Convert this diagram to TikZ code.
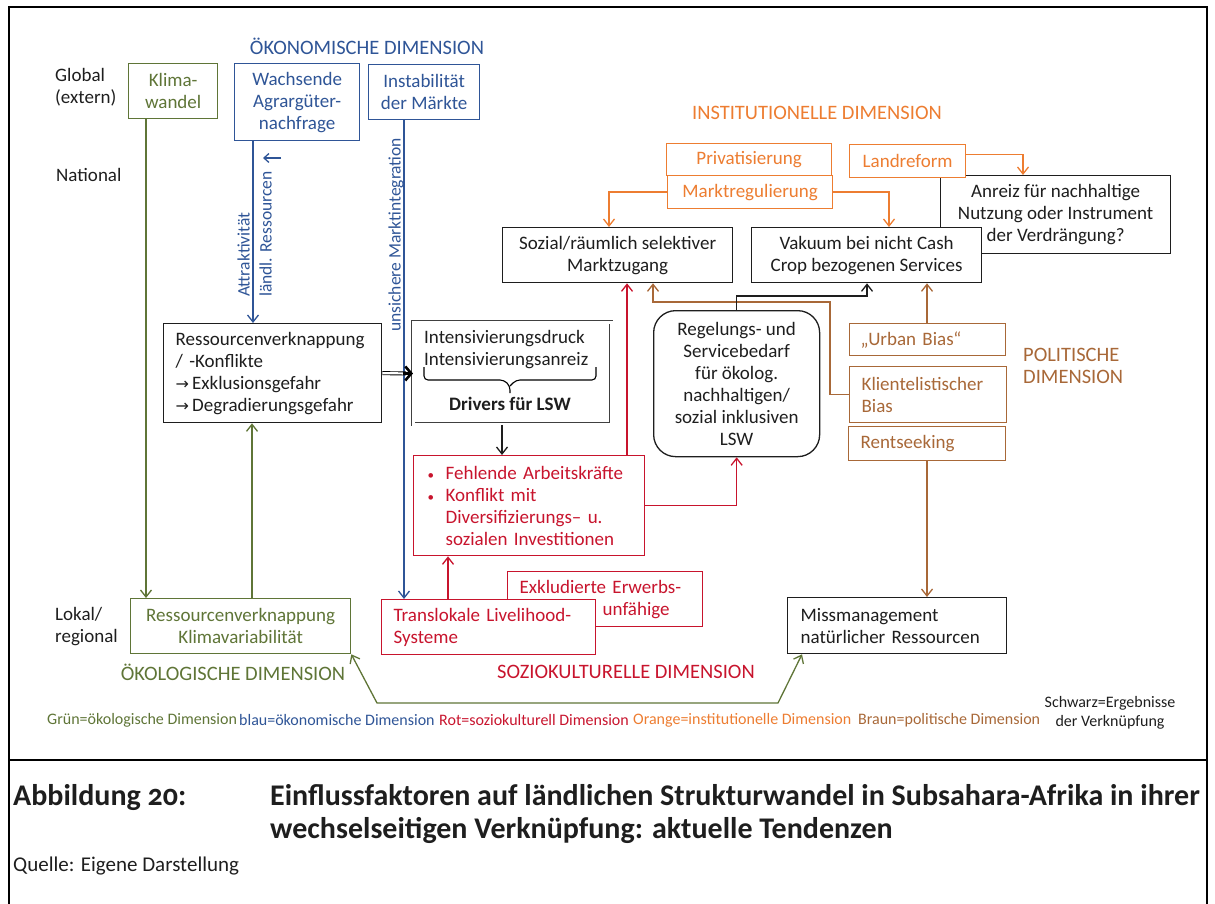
\documentclass[tikz,border=0pt]{standalone}
\usepackage{fontspec}
\setmainfont{Carlito}
\newfontfamily\dejavu{DejaVu Sans}
\newfontfamily\capfont[Numbers=OldStyle]{Carlito}
\usetikzlibrary{arrows.meta}
\definecolor{oekogreen}{RGB}{95,117,55}
\definecolor{oekoblue}{RGB}{47,85,151}
\definecolor{soziored}{RGB}{200,20,45}
\definecolor{instorange}{RGB}{237,125,49}
\definecolor{politbrown}{RGB}{168,104,56}
\definecolor{ink}{RGB}{30,30,30}

\begin{document}
\begin{tikzpicture}[x=1pt,y=-1pt,
  every node/.style={font=\fontsize{19}{22}\selectfont, text=ink, inner sep=0pt},
  box/.style={draw=ink, line width=1.3pt, fill=white, anchor=north west, align=center},
  dimtitle/.style={font=\fontsize{20.5}{22}\selectfont},
  rotlabel/.style={text=oekoblue, rotate=90, anchor=west, font=\fontsize{17.5}{22}\selectfont},
  legend/.style={anchor=west, font=\fontsize{16}{19}\selectfont},
  tip/.style={-{Straight Barb[length=7pt,width=11pt]}},
  link/.style={line width=1.3pt, tip},
  gl/.style={link, draw=oekogreen},
  bl/.style={link, draw=oekoblue},
  rl/.style={link, draw=soziored},
  ol/.style={link, draw=instorange},
  brl/.style={link, draw=politbrown},
  kl/.style={link, draw=ink}
]
\useasboundingbox (0,0) rectangle (1215,904);

% page frame and caption separator
\draw[line width=2.5pt] (9,904) -- (9,7) -- (1207,7) -- (1207,904);
\draw[line width=2.5pt] (9,760) -- (1207,760);

% level labels
\node[anchor=west, align=left] (glob) at (55,87) {Global\\(extern)};
\node[anchor=west] (nat) at (56,175) {National};
\node[anchor=west, align=left] (lok) at (55,627) {Lokal/\\regional};

% dimension titles
\node[dimtitle, text=oekoblue] (tOek) at (367,46) {ÖKONOMISCHE DIMENSION};
\node[dimtitle, text=instorange] (tInst) at (817,113) {INSTITUTIONELLE DIMENSION};
\node[dimtitle, text=politbrown, anchor=west, align=left] (tPol) at (1023,366) {POLITISCHE\\DIMENSION};
\node[dimtitle, text=oekogreen] (tOekol) at (233,672) {ÖKOLOGISCHE DIMENSION};
\node[dimtitle, text=soziored] (tSoz) at (626,672) {SOZIOKULTURELLE DIMENSION};

% global drivers
\node[box, draw=oekogreen, text=oekogreen, minimum width=89pt, minimum height=55pt] (klima) at (128,63) {Klima-\\wandel};
\node[box, draw=oekoblue, text=oekoblue, minimum width=125pt, minimum height=77pt] (wachs) at (234,63) {Wachsende\\Agrargüter-\\nachfrage};
\node[box, draw=oekoblue, text=oekoblue, minimum width=111pt, minimum height=55pt] (instab) at (368,64) {Instabilität\\der Märkte};

% institutional dimension
\node[box, minimum width=230pt, minimum height=78pt] (anreiz) at (940,175) {Anreiz für nachhaltige\\Nutzung oder Instrument\\der Verdrängung?};
\node[box, draw=instorange, text=instorange, minimum width=165pt, minimum height=32pt] (priv) at (666,143) {Privatisierung};
\node[box, draw=instorange, text=instorange, minimum width=165pt, minimum height=33pt] (markt) at (667,175) {Marktregulierung};
\node[box, draw=instorange, text=instorange, minimum width=116pt, minimum height=33pt] (land) at (849,144) {Landreform};
\node[box, minimum width=230pt, minimum height=55pt] (soz) at (502,227) {Sozial/räumlich selektiver\\Marktzugang};
\node[box, minimum width=230pt, minimum height=55pt] (vak) at (751,227) {Vakuum bei nicht Cash\\Crop bezogenen Services};

% national level
\node[box, align=left, inner xsep=12pt, text width=194pt, minimum height=99pt] (rk) at (163,323)
  {Ressourcenverknappung\\/ -Konflikte\\{\dejavu\fontsize{16}{22}\selectfont →}\,Exklusionsgefahr\\{\dejavu\fontsize{16}{22}\selectfont →}\,Degradierungsgefahr};
\node[box, draw=ink!85, double, double distance=2.2pt, line width=0.9pt, minimum width=198pt, minimum height=102pt] (intens) at (413,322) {};
\node[anchor=west, align=left] (intl) at (424,350) {Intensivierungsdruck\\Intensivierungsanreiz};
\draw[line width=1.1pt, rounded corners=4pt] (424,367) -- (424,380) -- (504,380) -- (510,386) -- (510,393);
\draw[line width=1.1pt, rounded corners=4pt] (596,367) -- (596,380) -- (516,380) -- (510,386);
\node[font=\bfseries\fontsize{19}{22}\selectfont] (drv) at (510,404) {Drivers für LSW};

\node[box, draw=soziored, text=soziored, align=left, inner xsep=12pt, text width=207pt, minimum height=100pt] (fehl) at (413,455)
  {\makebox[20pt][l]{\hspace{2pt}\fontsize{13}{22}\selectfont•}Fehlende Arbeitskräfte\\\makebox[20pt][l]{\hspace{2pt}\fontsize{13}{22}\selectfont•}Konflikt mit\\\hspace*{20pt}Diversifizierungs– u.\\\hspace*{20pt}sozialen Investitionen};
\node[box, rounded corners=22pt, minimum width=166pt, minimum height=146pt] (reg) at (653,310)
  {Regelungs- und\\Servicebedarf\\für ökolog.\\nachhaltigen/\\sozial inklusiven\\LSW};

% political dimension
\node[box, draw=politbrown, text=politbrown, align=left, inner xsep=11pt, text width=134pt, minimum height=32pt] (urban) at (849,323) {„Urban Bias“};
\node[box, draw=politbrown, text=politbrown, align=left, inner xsep=12pt, text width=133pt, minimum height=56pt] (klient) at (849,366) {Klientelistischer\\Bias};
\node[box, draw=politbrown, text=politbrown, align=left, inner xsep=12pt, text width=133pt, minimum height=34pt] (rent) at (848,426) {Rentseeking};

% local level
\node[box, draw=oekogreen, text=oekogreen, minimum width=220pt, minimum height=55pt] (gbox) at (130,598) {Ressourcenverknappung\\Klimavariabilität};
\node[box, draw=soziored, text=soziored, align=left, inner xsep=12pt, text width=171pt, minimum height=55pt] (exkl) at (507,571) {Exkludierte Erwerbs-\\\hspace*{83pt}unfähige};
\node[box, draw=soziored, text=soziored, align=left, inner xsep=12pt, text width=190pt, minimum height=55pt] (trans) at (381,599) {Translokale Livelihood-\\Systeme};
\node[box, align=left, inner xsep=13pt, text width=193pt, minimum height=56pt] (miss) at (787,597) {Missmanagement\\natürlicher Ressourcen};

% rotated arrow labels
\node[rotlabel, align=left] (attr) at (254.5,297) {Attraktivität\\ländl. Ressourcen};
\node[rotlabel] (unsich) at (396,332) {unsichere Marktintegration};
\coordinate (sa1) at (281,158);
\coordinate (sa2) at (263,158);
\draw[oekoblue, line width=1.3pt, -{Straight Barb[length=5pt,width=9pt]}] (sa1) -- (sa2);

% connectors
\draw[gl] ([xshift=18pt]klima.south west) -- ([xshift=18pt]klima.south west |- gbox.north);
\draw[gl] ([xshift=122pt]gbox.north west) -- ([xshift=122pt]gbox.north west |- rk.south);
\draw[bl] ([xshift=19pt]wachs.south west) -- ([xshift=19pt]wachs.south west |- rk.north);
\draw[bl] ([xshift=36pt]instab.south west) -- ([xshift=36pt]instab.south west |- trans.north);
\draw[kl] ([xshift=89pt]intens.south west) -- ([xshift=89pt]intens.south west |- fehl.north);
\draw[rl] ([xshift=67pt]trans.north west) -- ([xshift=67pt]trans.north west |- fehl.south);
\draw[rl] ([xshift=214pt]fehl.north west) -- ([xshift=214pt]fehl.north west |- soz.south);
\draw[rl] (fehl.east) -| (reg.south);
\draw[ol] (markt.west) -| ([xshift=107pt]soz.north west);
\draw[ol] (markt.east) -| ([xshift=138pt]vak.north west);
\draw[ol] ([yshift=6.5pt]land.east) -| ([xshift=83pt]anreiz.north west);
\draw[brl] ([xshift=78pt]urban.north west) -- ([xshift=78pt]urban.north west |- vak.south);
\draw[brl] ([xshift=79pt]rent.south west) -- ([xshift=79pt]rent.south west |- miss.north);
\coordinate (kbend) at (830,302);
\draw[brl] (klient.west) -| (kbend) -| ([xshift=151pt]soz.south west);
\draw[kl] (reg.north) -- ++(0,-14) -| ([xshift=116pt]vak.south west);
\draw[line width=0.9pt, double, double distance=2.2pt] (rk.east) -- ([xshift=-7pt]intens.west);
\draw[line width=2.6pt, -{Straight Barb[length=6pt,width=14pt]}] ([xshift=-10pt]intens.west) -- (intens.west);
\draw[line width=1.3pt, oekogreen, {Straight Barb[length=7pt,width=11pt]}-{Straight Barb[length=7pt,width=11pt]}]
  (gbox.south east) -- (377,703) -- (778,703) -- ([xshift=15pt]miss.south west);

% colour legend
\node[legend, text=oekogreen] (lg1) at (47,720) {Grün=ökologische Dimension};
\node[legend, text=oekoblue] (lg2) at (239,720) {blau=ökonomische Dimension};
\node[legend, text=soziored] (lg3) at (439,720) {Rot=soziokulturell Dimension};
\node[legend, text=instorange] (lg4) at (633,720) {Orange=institutionelle Dimension};
\node[legend, text=politbrown] (lg5) at (858,720) {Braun=politische Dimension};
\node[legend, anchor=center, align=center] (lg6) at (1110,713) {Schwarz=Ergebnisse\\der Verknüpfung};

% caption
\node[anchor=west, font=\capfont\bfseries\fontsize{30}{33}\selectfont] (capnum) at (13,798) {Abbildung 20:};
\node[anchor=west, align=left, font=\capfont\bfseries\fontsize{30}{33}\selectfont] (captxt) at (270,814)
  {Einflussfaktoren auf ländlichen Strukturwandel in Subsahara-Afrika in ihrer\\wechselseitigen Verknüpfung: aktuelle Tendenzen};
\node[anchor=west, font=\fontsize{21}{24}\selectfont] (quelle) at (13,866) {Quelle: Eigene Darstellung};
\end{tikzpicture}
\end{document}
